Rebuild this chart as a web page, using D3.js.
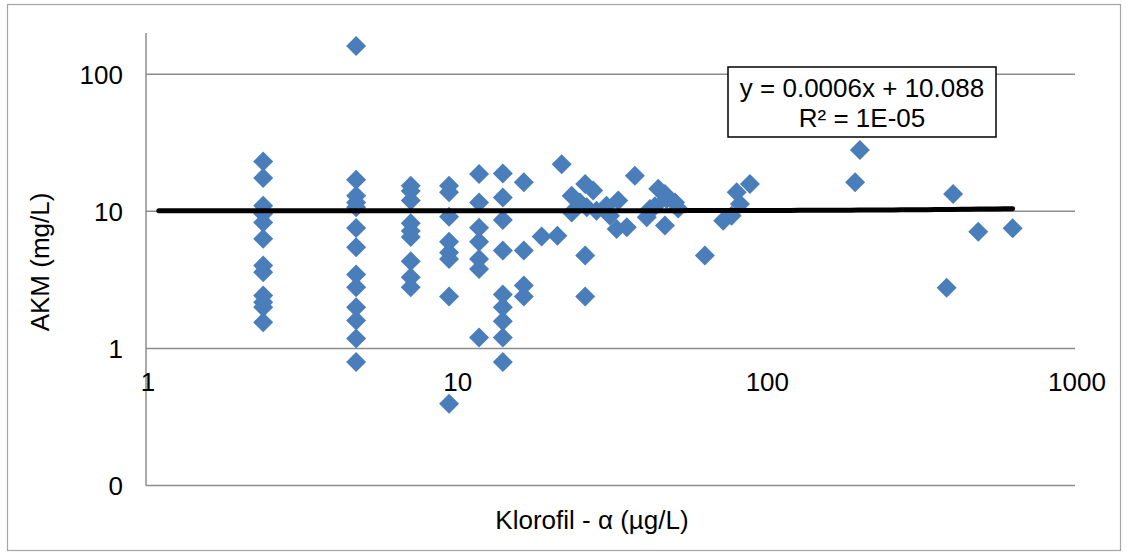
<!DOCTYPE html>
<html>
<head>
<meta charset="utf-8">
<script src="https://cdn.jsdelivr.net/npm/d3@7"></script>
<style>
  html, body { margin: 0; padding: 0; background: #fff; }
  svg { display: block; font-family: "Liberation Sans", Arial, sans-serif; }
</style>
</head>
<body>
<svg id="chart" width="1126" height="553"></svg>
<script>
// ---- data ----
const chlA = [
  2.39,2.39,2.39,2.39,2.39,2.39,2.39,2.39,2.39,2.39,2.39,2.39,
  4.77,4.77,4.77,4.77,4.77,4.77,4.77,4.77,4.77,4.77,4.77,4.77,4.77,
  7.16,7.16,7.16,7.16,7.16,7.16,7.16,7.16,7.16,
  9.52,9.52,9.52,9.52,9.52,9.52,9.52,9.52,
  11.9,11.9,11.9,11.9,11.9,11.9,11.9,
  14.2,14.2,14.2,14.2,14.2,14.2,14.2,14.2,14.2,
  16.6,16.6,16.6,16.6,
  18.95,21.3,22.0,26.2,23.7,27.8,25.2,23.7,26.5,28.5,30.7,33.5,31.5,33.1,35.7,37.9,
  42.4,41.4,45.1,48.0,52.3,47.4,26.2,26.2,63.8,47.4,51.1,44.0,
  80.8,89.2,82.8,73.1,77.8,202,195,404,487,629,385
];
const akm = [
  23.1,17.5,11.0,9.6,8.3,6.3,4.02,3.6,2.43,2.17,2.0,1.55,
  161,17.0,13.0,11.6,10.7,7.57,5.47,3.46,2.80,2.0,1.6,1.18,0.795,
  15.4,14.1,12.0,8.2,7.2,6.5,4.32,3.31,2.80,
  15.4,13.8,9.15,6.0,5.0,4.5,2.39,0.395,
  18.7,11.6,7.6,6.0,4.5,3.8,1.2,
  18.9,12.6,8.66,5.17,2.47,2.0,1.58,1.2,0.795,
  16.3,5.17,2.88,2.39,
  6.54,6.65,22.1,15.8,13.0,14.2,11.6,9.8,10.7,10.1,11.0,12.0,9.3,7.44,7.65,18.2,
  10.4,9.04,14.6,12.3,10.5,7.87,4.76,2.39,4.76,13.4,11.6,10.9,
  13.8,15.8,11.3,8.55,9.3,28.0,16.3,13.4,7.11,7.52,2.77
];
const xTicks = [1, 10, 100, 1000];
const xTickLabels = ["1", "10", "100", "1000"];
const yTicks = [0.1, 1, 10, 100];
const yTickLabels = ["0", "1", "10", "100"];
const trendSlope = 0.0006;
const trendIntercept = 10.088;
const trendFrom = 1.1;
const trendTo = 629;
const eqLines = ["y = 0.0006x + 10.088", "R² = 1E-05"];
const xTitle = "Klorofil - α (µg/L)";
const yTitle = "AKM (mg/L)";

// ---- drawing ----
const svg = d3.select("#chart");
const FS = 26;

// chart border
svg.append("rect").attr("x", 7.5).attr("y", 4.5).attr("width", 1113).attr("height", 546)
  .attr("fill", "#fff").attr("stroke", "#a6a6a6").attr("stroke-width", 1.2);

const x = d3.scaleLog().domain([1, 1000]).range([146, 1075]);
const y = d3.scaleLog().domain([0.1, 200]).range([485.5, 33]);

// gridlines
svg.append("g").selectAll("line").data(yTicks).join("line")
  .attr("x1", x(1)).attr("x2", x(1000))
  .attr("y1", d => y(d)).attr("y2", d => y(d))
  .attr("stroke", "#8c8c8c").attr("stroke-width", 1.5);

// y axis line
svg.append("line").attr("x1", x(1)).attr("x2", x(1))
  .attr("y1", y(200)).attr("y2", y(0.1))
  .attr("stroke", "#8c8c8c").attr("stroke-width", 1.5);

// y tick labels
svg.append("g").selectAll("text").data(yTicks).join("text")
  .attr("x", 123).attr("y", d => y(d)).attr("dy", "0.36em")
  .attr("text-anchor", "end").attr("font-size", FS).attr("fill", "#000")
  .text((d, i) => yTickLabels[i]);

// x tick labels (axis crosses at y = 1)
svg.append("g").selectAll("text").data(xTicks).join("text")
  .attr("x", d => x(d) + 2).attr("y", y(1) + 33).attr("dy", "0.36em")
  .attr("text-anchor", "middle").attr("font-size", FS).attr("fill", "#000")
  .text((d, i) => xTickLabels[i]);

// markers
const pts = chlA.map((v, i) => [v, akm[i]]);
const r = 10;
svg.append("g").selectAll("path").data(pts).join("path")
  .attr("transform", d => `translate(${x(d[0])},${y(d[1])})`)
  .attr("d", `M0,${-r}L${r},0L0,${r}L${-r},0Z`)
  .attr("fill", "#4a7ebb");

// trend line
const tx = d3.range(0, 101).map(i => trendFrom * Math.pow(trendTo / trendFrom, i / 100));
const line = d3.line().x(d => x(d)).y(d => y(trendSlope * d + trendIntercept));
svg.append("path").datum(tx).attr("d", line)
  .attr("fill", "none").attr("stroke", "#000").attr("stroke-width", 5)
  .attr("stroke-linecap", "round");

// equation box
const bx = 728, by = 67, bw = 268, bh = 70;
svg.append("rect").attr("x", bx).attr("y", by).attr("width", bw).attr("height", bh)
  .attr("fill", "#fff").attr("stroke", "#000").attr("stroke-width", 1.5);
svg.append("g").selectAll("text").data(eqLines).join("text")
  .attr("x", bx + bw / 2).attr("y", (d, i) => by + 21 + i * 30).attr("dy", "0.36em")
  .attr("text-anchor", "middle").attr("font-size", FS).attr("fill", "#000")
  .text(d => d);

// axis titles
svg.append("text").attr("x", 592).attr("y", 520).attr("dy", "0.36em")
  .attr("text-anchor", "middle").attr("font-size", FS).attr("fill", "#000").text(xTitle);
svg.append("text").attr("transform", "translate(40,262) rotate(-90)").attr("dy", "0.36em")
  .attr("text-anchor", "middle").attr("font-size", FS).attr("fill", "#000").text(yTitle);
</script>
</body>
</html>
